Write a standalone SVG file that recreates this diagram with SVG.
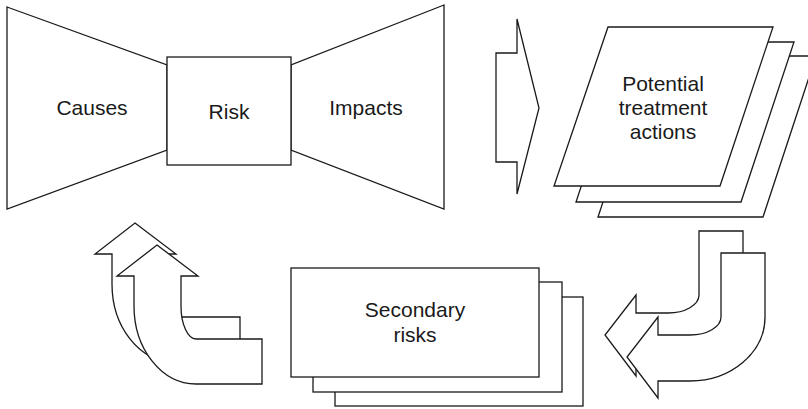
<svg xmlns="http://www.w3.org/2000/svg" width="808" height="409" viewBox="0 0 808 409">
<style>
.s{fill:#fff;stroke:#1a1a1a;stroke-width:1.3;stroke-linejoin:miter}
.t{font-family:"Liberation Sans",Arial,Helvetica,sans-serif;font-size:21px;fill:#1a1a1a;text-anchor:middle}
</style>
<rect width="808" height="409" fill="#fff"/>
<g id="causes">
<path class="s" d="M7,7 L167,65 V150 L7,209 Z"/>
<text class="t" x="92" y="115">Causes</text>
</g>
<g id="impacts">
<path class="s" d="M444,5 L291,65 V150 L444,209 Z"/>
<text class="t" x="366" y="115">Impacts</text>
</g>
<g id="risk">
<rect class="s" x="167" y="57" width="124" height="108"/>
<text class="t" x="229" y="119">Risk</text>
</g>
<g id="treatment">
<path class="s" d="M651,56 H816 L763,217 H598 Z"/>
<path class="s" d="M629,42 H794 L741,202 H576 Z"/>
<path class="s" d="M608,27 H773 L720,186 H554 Z"/>
<text class="t" x="663" y="91">Potential</text>
<text class="t" x="663" y="115">treatment</text>
<text class="t" x="663" y="139">actions</text>
</g>
<g id="secondary">
<rect class="s" x="335" y="297" width="248" height="109"/>
<rect class="s" x="313" y="282" width="249" height="110"/>
<rect class="s" x="291" y="268" width="248" height="109"/>
<text class="t" x="415" y="317">Secondary</text>
<text class="t" x="415" y="342">risks</text>
</g>
<g id="connectors">
<path class="s" d="M496,53 H517 V19 L539,108 L517,194 V162 H496 Z"/>
<g id="arrow-to-secondary">
<path class="s" transform="translate(-22,-22)" d="M721,253 H765 V317 A75,64 0 0 1 690,381 H658 V398 L627,357 L658,317 V335 H690 A31,18 0 0 0 721,317 Z"/>
<path class="s" d="M721,253 H765 V317 A75,64 0 0 1 690,381 H658 V398 L627,357 L658,317 V335 H690 A31,18 0 0 0 721,317 Z"/>
</g>
<g id="arrow-to-risk">
<path class="s" transform="translate(-22,-22)" d="M157,245 L198,276 H181 V306 A15,33 0 0 0 196,339 H262 V384 H196 A62,78 0 0 1 134,306 V276 H117 Z"/>
<path class="s" d="M157,245 L198,276 H181 V306 A15,33 0 0 0 196,339 H262 V384 H196 A62,78 0 0 1 134,306 V276 H117 Z"/>
</g>
</g>
</svg>
